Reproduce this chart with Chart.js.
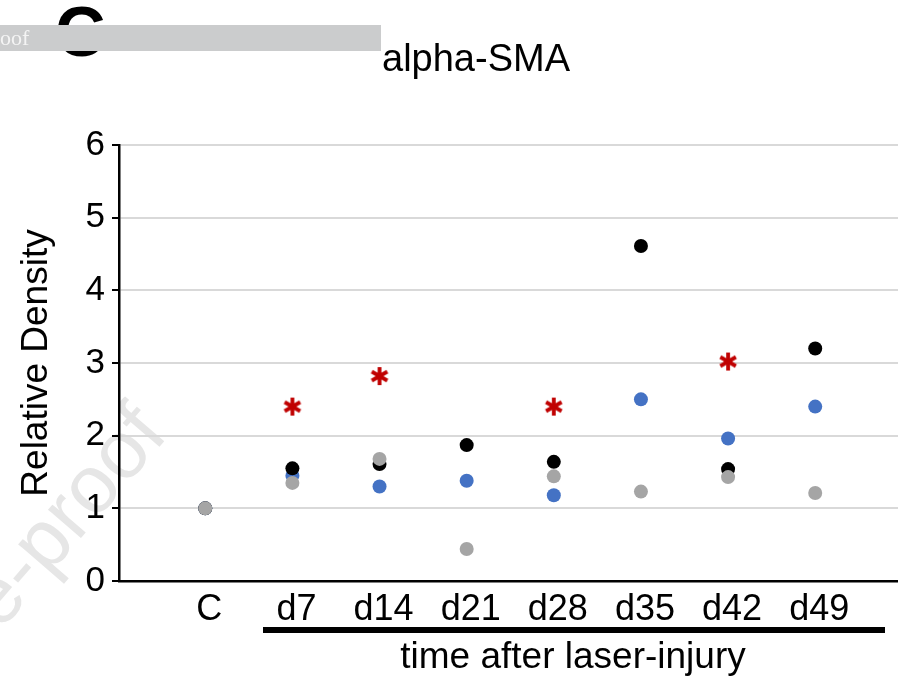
<!DOCTYPE html>
<html>
<head>
<meta charset="utf-8">
<title>alpha-SMA</title>
<script src="https://cdn.jsdelivr.net/npm/chart.js@4/dist/chart.umd.min.js"></script>
<style>
  html, body { margin: 0; padding: 0; background: #fff; }
  #wrap { position: relative; width: 898px; height: 681px; }
</style>
</head>
<body>
<div id="wrap"><canvas id="smaChart"></canvas></div>
<script>
// time points and relative density per group
const categories = ['C', 'd7', 'd14', 'd21', 'd28', 'd35', 'd42', 'd49'];
const yTicks = [0, 1, 2, 3, 4, 5, 6];
const blackValues = [1.00, 1.55, 1.61, 1.87, 1.64, 4.61, 1.54, 3.20];
const blueValues  = [1.00, 1.45, 1.30, 1.38, 1.18, 2.50, 1.96, 2.40];
const grayValues  = [1.00, 1.35, 1.68, 0.44, 1.44, 1.23, 1.43, 1.21];
const starValues  = [null, 2.40, 2.82, null, 2.40, null, 3.02, null];

const FONT = '"Liberation Sans", Arial, sans-serif';

function toPoints(vals) {
    return vals.map((v, i) => v === null ? null : { x: i, y: v }).filter(p => p);
}

// red six-spoke asterisk used as point style for significance marks
function makeStar() {
    const c = document.createElement('canvas');
    c.width = 20; c.height = 20;
    const ctx = c.getContext('2d');
    ctx.strokeStyle = '#c00000';
    ctx.lineWidth = 3.8;
    [90, 30, -30].forEach(deg => {
        const a = deg * Math.PI / 180;
        const dx = Math.cos(a) * 9, dy = Math.sin(a) * 9;
        ctx.beginPath();
        ctx.moveTo(10 - dx, 10 - dy);
        ctx.lineTo(10 + dx, 10 + dy);
        ctx.stroke();
    });
    return c;
}

const decorations = {
    id: 'decorations',
    beforeDraw(chart) {
        const ctx = chart.ctx;
        ctx.save();
        // faint diagonal watermark
        ctx.translate(0, 632);
        ctx.rotate(-0.86);
        ctx.font = '82px ' + FONT;
        ctx.fillStyle = '#e6e6e6';
        ctx.textBaseline = 'alphabetic';
        ctx.fillText('e-proof', 0, 0);
        ctx.restore();
    },
    afterDraw(chart) {
        const ctx = chart.ctx;
        ctx.save();
        // panel letter, partly covered by the header band
        ctx.fillStyle = '#000';
        ctx.font = 'bold 70px ' + FONT;
        ctx.textBaseline = 'alphabetic';
        ctx.fillText('C', 55, 56);
        ctx.fillStyle = '#cbcccd';
        ctx.fillRect(0, 25, 381, 26);
        ctx.fillStyle = '#f4f4f4';
        ctx.font = '22px "Liberation Serif", serif';
        ctx.fillText('oof', 0, 45);

        // chart title
        ctx.fillStyle = '#000';
        ctx.font = '38px ' + FONT;
        ctx.textAlign = 'center';
        ctx.fillText('alpha-SMA', 476, 71);

        // bar under the injury time points + caption
        ctx.fillRect(263, 627, 622, 6);
        ctx.font = '37px ' + FONT;
        ctx.fillText('time after laser-injury', 573, 668);
        ctx.restore();
    }
};

const starImg = makeStar();

new Chart(document.getElementById('smaChart'), {
    type: 'scatter',
    data: {
        datasets: [
            {
                label: 'significance',
                data: toPoints(starValues),
                pointStyle: starImg,
                pointRadius: 10
            },
            {
                label: 'gray',
                data: toPoints(grayValues),
                backgroundColor: '#a5a5a5',
                borderColor: '#a5a5a5',
                pointRadius: 7,
                borderWidth: 0
            },
            {
                label: 'black',
                data: toPoints(blackValues),
                backgroundColor: '#000000',
                borderColor: '#000000',
                pointRadius: 7,
                borderWidth: 0
            },
            {
                label: 'blue',
                data: toPoints(blueValues),
                backgroundColor: '#4472c4',
                borderColor: '#4472c4',
                pointRadius: 7,
                borderWidth: 0
            }
        ]
    },
    options: {
        responsive: true,
        maintainAspectRatio: false,
        animation: false,
        events: [],
        layout: {
            autoPadding: false,
            padding: { top: 145, left: 0, right: 0, bottom: 0 }
        },
        plugins: {
            legend: { display: false },
            tooltip: { enabled: false }
        },
        scales: {
            x: {
                type: 'linear',
                min: -0.99,
                max: 7.95,
                afterBuildTicks: scale => {
                    scale.ticks = categories.map((_, i) => ({ value: i }));
                },
                afterFit: scale => {
                    scale.height = 100;
                    scale.paddingLeft = 0;
                    scale.paddingRight = 0;
                },
                grid: { display: false, drawTicks: false },
                border: { display: true, color: '#000', width: 2.5 },
                ticks: {
                    autoSkip: false,
                    maxRotation: 0,
                    padding: 7,
                    labelOffset: 4,
                    color: '#000',
                    font: { family: FONT, size: 36 },
                    callback: v => categories[v] ?? ''
                }
            },
            y: {
                min: 0,
                max: 6,
                afterBuildTicks: scale => {
                    scale.ticks = yTicks.map(v => ({ value: v }));
                },
                afterFit: scale => { scale.width = 119; },
                grid: {
                    color: '#d9d9d9',
                    lineWidth: 2,
                    tickColor: '#000',
                    tickLength: 7,
                    tickWidth: 2
                },
                border: { display: true, color: '#000', width: 2.5 },
                ticks: {
                    padding: 7,
                    color: '#000',
                    font: { family: FONT, size: 35 }
                },
                title: {
                    display: true,
                    text: 'Relative Density',
                    color: '#000',
                    font: { family: FONT, size: 37 },
                    padding: { top: 15, bottom: 0 }
                }
            }
        }
    },
    plugins: [decorations]
});
</script>
</body>
</html>
